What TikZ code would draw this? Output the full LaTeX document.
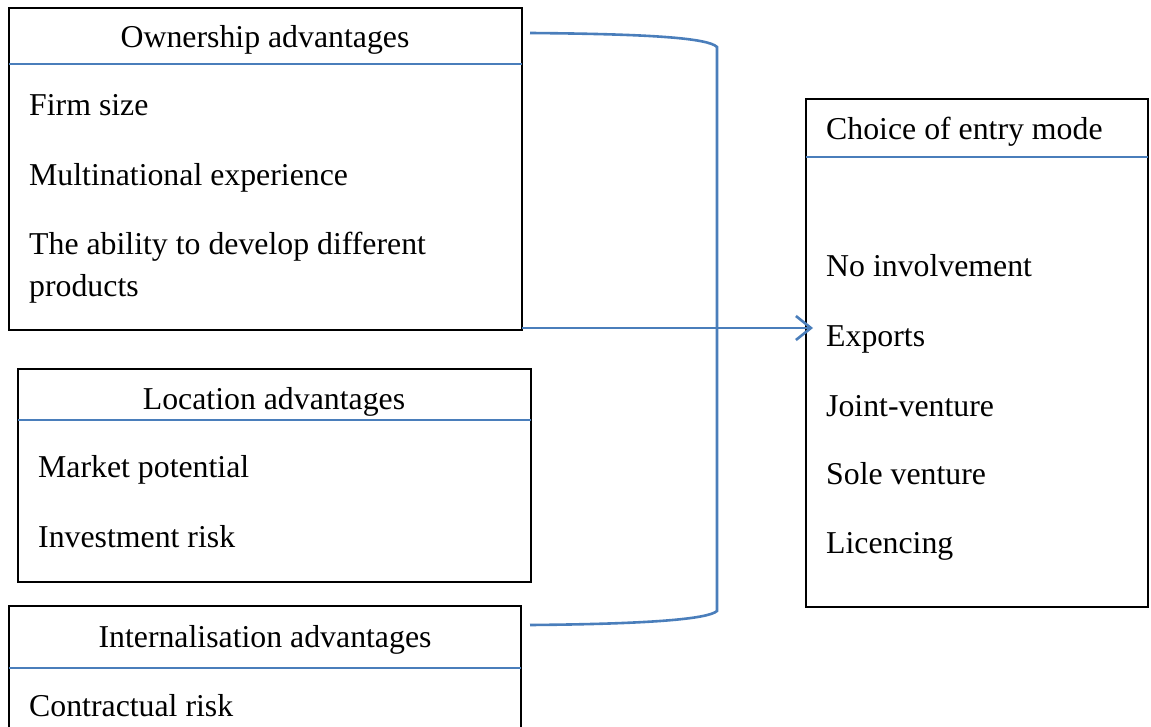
\documentclass[tikz,border=0pt]{standalone}
\usepackage{fontspec}
\setmainfont{Liberation Serif}
\usetikzlibrary{arrows.meta}
\definecolor{wblue}{HTML}{4A7EBB}
\begin{document}
\begin{tikzpicture}[x=1pt,y=-1pt,
  box/.style={draw=black,line width=1.3pt,rectangle,anchor=north west,inner sep=0pt,outer sep=0pt},
  divider/.style={draw=wblue,line width=2pt},
  conn/.style={draw=wblue,line width=2.6pt},
  txt/.style={anchor=base west,inner sep=0pt,font=\fontsize{31.8}{38}\selectfont},
  ttl/.style={anchor=base,inner sep=0pt,font=\fontsize{31.8}{38}\selectfont}]
\useasboundingbox (0,0) rectangle (1151,727);
% Ownership
\node[box,minimum width=513pt,minimum height=322pt] (own) at (9,8) {};
\draw[divider] (9,64) -- (522,64);
\node[ttl] (ownt) at (265,48) {Ownership advantages};
\node[txt] (o1) at (29,116) {Firm size};
\node[txt] (o2) at (29,186) {Multinational experience};
\node[txt] (o3) at (29,255) {The ability to develop different};
\node[txt] (o4) at (29,297) {products};
% Location
\node[box,minimum width=513pt,minimum height=213pt] (loc) at (18,369) {};
\draw[divider] (18,420) -- (531,420);
\node[ttl] (loct) at (274,409) {Location advantages};
\node[txt] (l1) at (38,477) {Market potential};
\node[txt] (l2) at (38,547) {Investment risk};
% Internalisation
\node[box,minimum width=512pt,minimum height=140pt] (int) at (9,606) {};
\draw[divider] (9,668) -- (521,668);
\node[ttl] (intt) at (265,647) {Internalisation advantages};
\node[txt] (i1) at (29,716) {Contractual risk};
% Choice
\node[box,minimum width=342pt,minimum height=508pt] (cho) at (806,99) {};
\draw[divider] (806,157) -- (1148,157);
\node[txt] (ct) at (826,140) {Choice of entry mode};
\node[txt] (c1) at (826,277) {No involvement};
\node[txt] (c2) at (826,346) {Exports};
\node[txt] (c3) at (826,416) {Joint-venture};
\node[txt] (c4) at (826,484) {Sole venture};
\node[txt] (c5) at (826,553) {Licencing};
% Connectors
\coordinate (btop) at (530,33);
\coordinate (bbot) at (530,625);
\coordinate (bcorner1) at (717,47);
\coordinate (bcorner2) at (717,611);
\draw[conn] (btop) .. controls (650,34) and (708,38) .. (bcorner1) -- (bcorner2) .. controls (708,619) and (650,624) .. (bbot);
\coordinate (astart) at (522,328);
\coordinate (aend) at (813,328);
\draw[conn,-{Straight Barb[length=15pt,width=24pt]}] (astart) -- (aend);
\end{tikzpicture}
\end{document}
